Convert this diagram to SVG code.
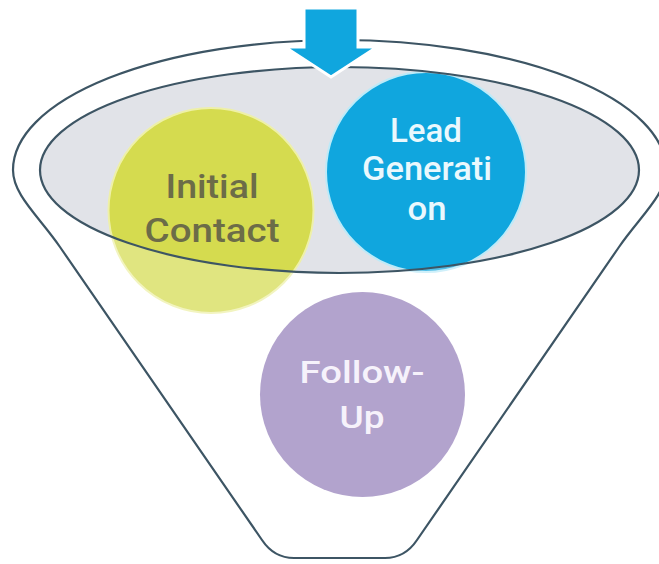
<svg xmlns="http://www.w3.org/2000/svg" width="659" height="564" viewBox="0 0 659 564">
<style>
.outline{fill:none;stroke:#3d5564;stroke-width:2.2}
.lbl{font-family:Roboto,"Liberation Sans","DejaVu Sans",sans-serif;font-weight:500;text-anchor:middle}
.dark{fill:#6c6c48}
.light{fill:#eaf8fd}
.white{fill:#f6f2fb}
</style>
<defs>
<path id="funnelPath" d="M 262,540 L 60,247 C 38.6,216 13,195 13,170 A 326.5 130 0 0 1 666,170 C 666,195 640.4,216 619,247 L 417,540 Q 405,558 385,558 L 294,558 Q 274,558 262,540 Z"/>
</defs>
<rect x="0" y="0" width="659" height="564" fill="#ffffff"/>
<g id="funnel">
<use href="#funnelPath" fill="#ffffff"/>
<ellipse cx="339.5" cy="170" rx="299.5" ry="103" fill="#e1e3e8"/>
</g>
<g id="node-initial-contact">
<circle cx="211" cy="210.5" r="102.5" fill="#d5db4f" stroke="#eef0a8" stroke-width="2"/>
</g>
<g id="node-lead-generation">
<circle cx="426" cy="172" r="100" fill="#10a6de" stroke="#bdeaf8" stroke-width="2"/>
</g>
<g id="funnel-overlay">
<path d="M 262,540 L 60,247 C 38.6,216 13,195 13,170 A 326.5 130 0 0 1 666,170 C 666,195 640.4,216 619,247 L 417,540 Q 405,558 385,558 L 294,558 Q 274,558 262,540 Z M 40,170 A 299.5 103 0 0 0 639,170 A 299.5 103 0 0 0 40,170 Z" fill="#ffffff" fill-opacity="0.28" fill-rule="evenodd"/>
</g>
<g id="node-follow-up">
<circle cx="362.5" cy="394.5" r="102.5" fill="#b2a3cd"/>
</g>
<g id="funnel-lines">
<use href="#funnelPath" class="outline"/>
<ellipse cx="339.5" cy="170" rx="299.5" ry="103" class="outline"/>
</g>
<g id="arrow">
<path d="M 304,8 L 358,8 L 358,47 L 377,47 L 331,77 L 285,47 L 304,47 Z" fill="#10a6de" stroke="#ffffff" stroke-width="3" stroke-linejoin="miter"/>
</g>
<g id="labels">
<text class="lbl dark" x="212" y="198" font-size="34" textLength="93" lengthAdjust="spacingAndGlyphs">Initial</text>
<text class="lbl dark" x="212" y="242" font-size="34" textLength="135" lengthAdjust="spacingAndGlyphs">Contact</text>
<text class="lbl light" x="426" y="142" font-size="33" textLength="72" lengthAdjust="spacingAndGlyphs">Lead</text>
<text class="lbl light" x="427" y="180" font-size="33" textLength="130" lengthAdjust="spacingAndGlyphs">Generati</text>
<text class="lbl light" x="427" y="220" font-size="33" textLength="39" lengthAdjust="spacingAndGlyphs">on</text>
<text class="lbl white" x="362" y="383" font-size="32" textLength="125" lengthAdjust="spacingAndGlyphs">Follow-</text>
<text class="lbl white" x="362" y="428" font-size="32" textLength="45" lengthAdjust="spacingAndGlyphs">Up</text>
</g>
</svg>
